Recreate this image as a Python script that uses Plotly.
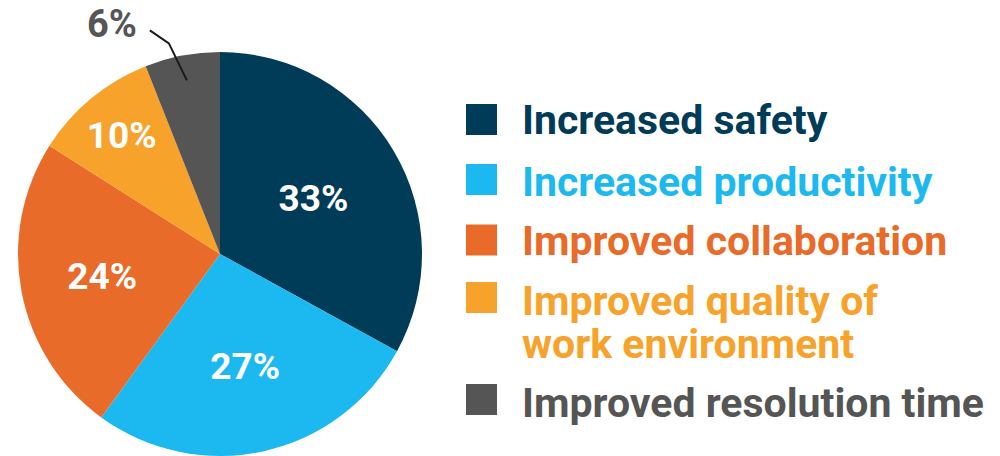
import math
import plotly.graph_objects as go

# Survey results: reported benefits
categories = [
    "Increased safety",
    "Increased productivity",
    "Improved collaboration",
    "Improved quality of work environment",
    "Improved resolution time",
]
legend_lines = [
    ["Increased safety"],
    ["Increased productivity"],
    ["Improved collaboration"],
    ["Improved quality of", "work environment"],
    ["Improved resolution time"],
]
values = [33, 27, 24, 10, 6]
colors = ["#003C57", "#1CB9F1", "#E86B29", "#F7A22A", "#555555"]

W, H = 1000, 456
FONT = "Roboto"

# Pie geometry (pixels)
cx, cy, R = 220, 254, 202

# White labels inside the larger slices; the small slice gets an outside callout
inside_text = [f"{v}%" if v >= 10 else "" for v in values]

fig = go.Figure()
fig.add_trace(go.Pie(
    labels=categories,
    values=values,
    sort=False,
    direction="clockwise",
    rotation=0,
    marker=dict(colors=colors, line=dict(width=0)),
    text=inside_text,
    textinfo="text",
    textposition="inside",
    insidetextorientation="horizontal",
    insidetextfont=dict(family=FONT, size=37, color="white", weight=700),
    showlegend=False,
    hoverinfo="label+percent",
    domain=dict(x=[(cx - R) / W, (cx + R) / W],
                y=[max(0.0, 1 - (cy + R) / H), min(1.0, 1 - (cy - R) / H)]),
))


def px(x, y):
    return x / W, 1 - y / H


# Callout for the small slice, anchored at its mid angle
total = sum(values)
start = sum(values[:-1])
mid = (start + values[-1] / 2) / total * 2 * math.pi
p_in = (cx + 0.875 * R * math.sin(mid), cy - 0.875 * R * math.cos(mid))
p_elbow = (p_in[0] - 18, p_in[1] - 37)
p_end = (p_elbow[0] - 19, p_elbow[1] - 13)
path = "M {} {} L {} {} L {} {}".format(
    *px(*p_in), *px(*p_elbow), *px(*p_end)
)
fig.add_shape(type="path", path=path, xref="paper", yref="paper",
              line=dict(color="#1a1a1a", width=2))
lx, ly = px(p_end[0] - 11, p_end[1] - 6)
fig.add_annotation(x=lx, y=ly, xref="paper", yref="paper", showarrow=False,
                   text=f"{values[-1]}%", xanchor="right", yanchor="middle",
                   font=dict(family=FONT, size=38, color=colors[-1], weight=700))

# Custom legend: large squares with text coloured like its slice
square_centers = [119.5, 179.5, 240, 297.5, 399.5]
line_centers = [[120.5], [181.5], [241.5], [300.5, 343.5], [402.5]]
sq_x0, sq_size, text_x = 466, 31, 520
for lines, col, sq_yc, ycs in zip(legend_lines, colors, square_centers, line_centers):
    x0, y0 = px(sq_x0, sq_yc - sq_size / 2)
    x1, y1 = px(sq_x0 + sq_size, sq_yc + sq_size / 2)
    fig.add_shape(type="rect", xref="paper", yref="paper", x0=x0, x1=x1, y0=y1, y1=y0,
                  fillcolor=col, line=dict(width=0))
    for line, yc in zip(lines, ycs):
        tx, ty = px(text_x, yc)
        fig.add_annotation(x=tx, y=ty, xref="paper", yref="paper", showarrow=False,
                           text=line, xanchor="left", yanchor="middle", align="left",
                           font=dict(family=FONT, size=41, color=col, weight=700))

fig.update_layout(
    width=W, height=H,
    margin=dict(l=0, r=0, t=0, b=0),
    paper_bgcolor="white",
    plot_bgcolor="white",
)

fig.write_html("out.html")
